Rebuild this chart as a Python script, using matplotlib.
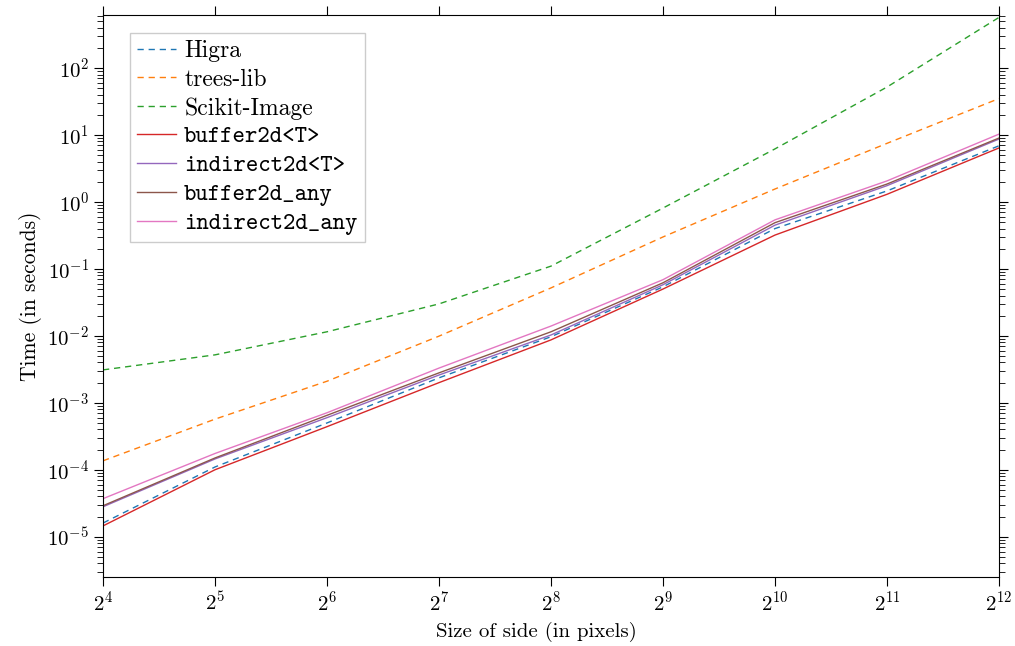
import numpy as np
import matplotlib
matplotlib.use('Agg')
import matplotlib.pyplot as plt
from matplotlib.ticker import LogLocator, LogFormatterSciNotation, NullLocator

plt.rcParams['font.family'] = 'serif'
plt.rcParams['font.serif'] = ['cmr10']
plt.rcParams['mathtext.fontset'] = 'cm'
plt.rcParams['axes.formatter.use_mathtext'] = True
plt.rcParams['axes.unicode_minus'] = True

# side length exponents (2^k pixels)
exponents = [4, 5, 6, 7, 8, 9, 10, 11, 12]

# timings in seconds
higra = [1.6e-5, 1.1e-4, 5.0e-4, 2.36e-3, 9.7e-3, 0.054, 0.40, 1.46, 6.9]
trees_lib = [1.36e-4, 5.7e-4, 2.1e-3, 9.9e-3, 0.052, 0.30, 1.56, 7.5, 35.0]
scikit_image = [3.1e-3, 5.2e-3, 0.0115, 0.030, 0.11, 0.81, 6.2, 52.0, 570.0]
buffer2d_T = [1.45e-5, 1.0e-4, 4.4e-4, 2.0e-3, 8.7e-3, 0.050, 0.32, 1.3, 6.4]
indirect2d_T = [2.8e-5, 1.45e-4, 6.0e-4, 2.6e-3, 0.0103, 0.058, 0.45, 1.75, 8.7]
buffer2d_any = [2.9e-5, 1.5e-4, 6.5e-4, 2.8e-3, 0.0115, 0.062, 0.49, 1.85, 9.0]
indirect2d_any = [3.7e-5, 1.75e-4, 7.1e-4, 3.3e-3, 0.014, 0.069, 0.54, 2.06, 10.3]

sizes = 2.0 ** np.array(exponents)

fig = plt.figure(figsize=(10.15, 6.46), dpi=100)
ax = fig.add_axes([0.1015, 0.1068, 0.8827, 0.87])

dash = (4.5, 3.5)
ax.plot(sizes, higra, color='C0', lw=1, linestyle=(0, dash), label='Higra')
ax.plot(sizes, trees_lib, color='C1', lw=1, linestyle=(0, dash), label='trees-lib')
ax.plot(sizes, scikit_image, color='C2', lw=1, linestyle=(0, dash), label='Scikit-Image')
ax.plot(sizes, buffer2d_T, color='C3', lw=1, label='buffer2d<T>')
ax.plot(sizes, indirect2d_T, color='C4', lw=1, label='indirect2d<T>')
ax.plot(sizes, buffer2d_any, color='C5', lw=1, label='buffer2d_any')
ax.plot(sizes, indirect2d_any, color='C6', lw=1, label='indirect2d_any')

ax.set_xscale('log', base=2)
ax.set_yscale('log')
ax.set_xlim(sizes[0], sizes[-1])
ax.set_ylim(2.5e-6, 620)

ax.xaxis.set_major_locator(LogLocator(base=2, numticks=20))
ax.xaxis.set_major_formatter(LogFormatterSciNotation(base=2))
ax.xaxis.set_minor_locator(NullLocator())
ax.yaxis.set_major_locator(LogLocator(base=10, numticks=20))
ax.yaxis.set_minor_locator(LogLocator(base=10, subs=np.arange(2, 10), numticks=20))

ax.tick_params(which='both', direction='out', top=True, right=True, labelsize=15)
ax.tick_params(which='major', length=6.5, width=0.8)
ax.tick_params(which='minor', length=4.3, width=0.6)

ax.set_xlabel('Size of side (in pixels)', fontsize=15)
ax.xaxis.set_label_coords(0.484, -0.08)
ax.set_ylabel('Time (in seconds)', fontsize=15.5, labelpad=4)

leg = ax.legend(loc='upper left', fontsize=17, fancybox=False, framealpha=1,
                edgecolor='#cccccc', borderpad=0.3, labelspacing=0.27,
                handlelength=1.65, handletextpad=0.35, borderaxespad=0,
                bbox_to_anchor=(0.030, 0.968))
for t in leg.get_texts()[3:]:
    t.set_fontfamily('cmtt10')

fig.savefig('out.png', dpi=100)
